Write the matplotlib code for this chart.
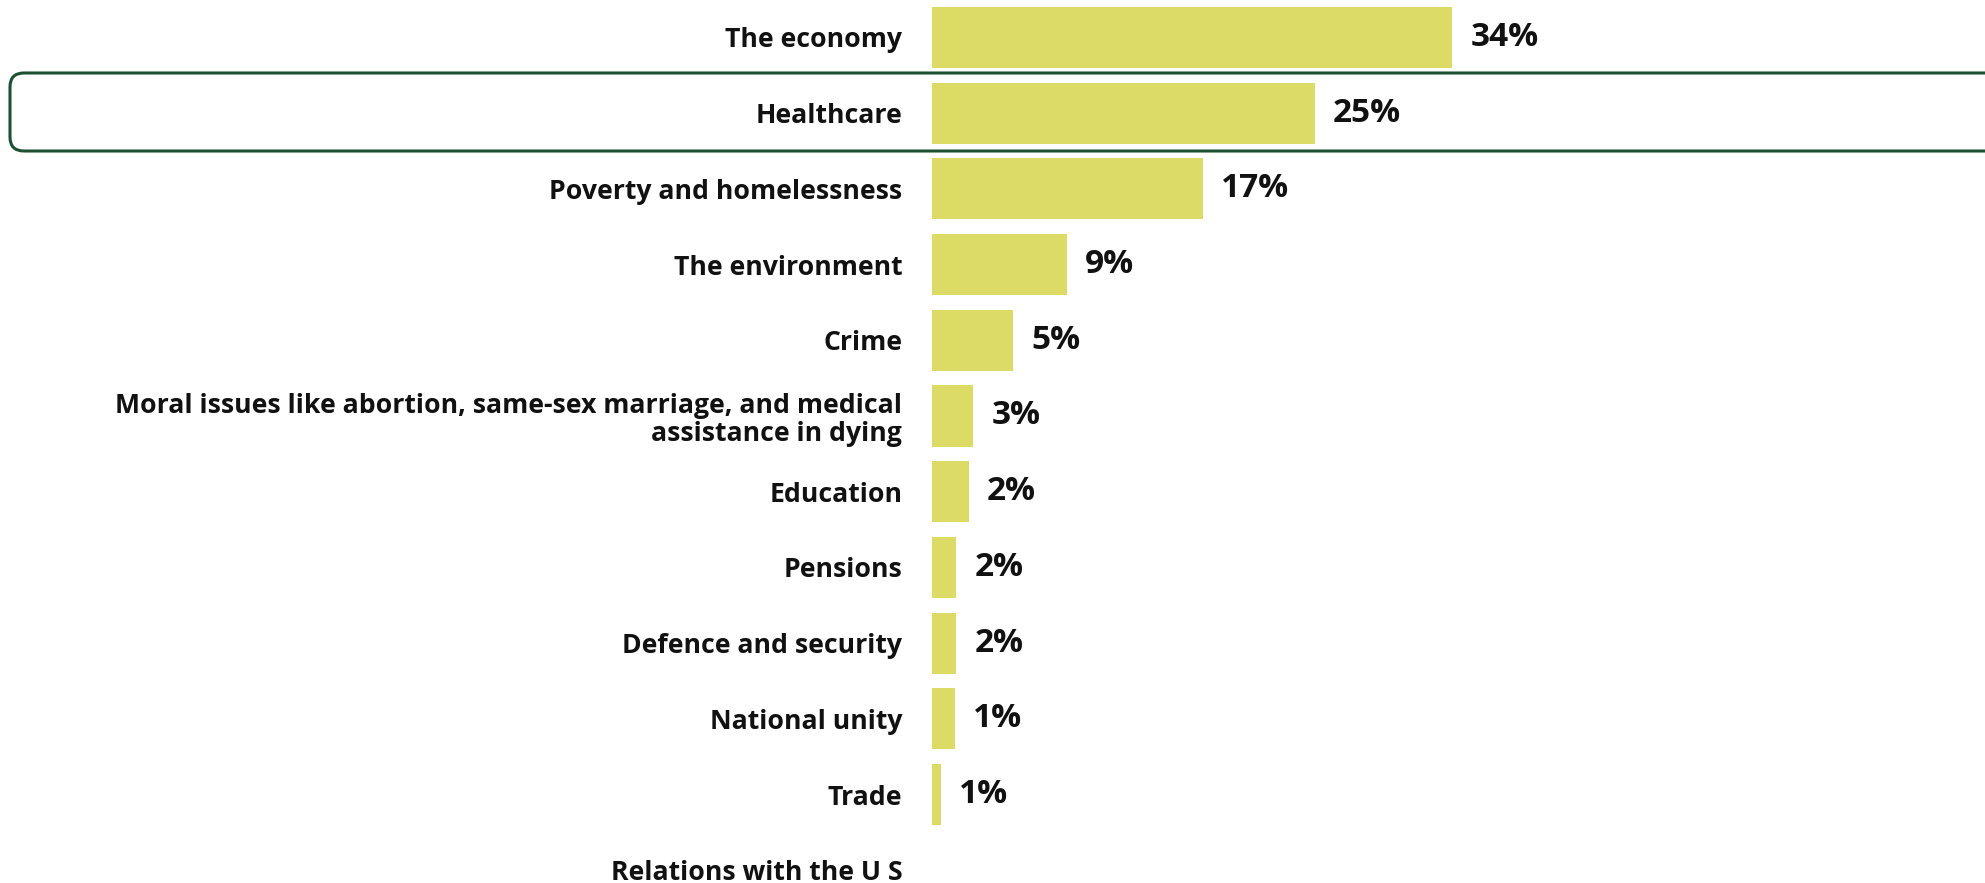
import matplotlib
matplotlib.use("Agg")
import matplotlib.pyplot as plt
from matplotlib.patches import FancyBboxPatch
from matplotlib.transforms import IdentityTransform

categories = [
    "The economy",
    "Healthcare",
    "Poverty and homelessness",
    "The environment",
    "Crime",
    "Moral issues like abortion, same-sex marriage, and medical\nassistance in dying",
    "Education",
    "Pensions",
    "Defence and security",
    "National unity",
    "Trade",
    "Relations with the U S",
]
values = [34, 25, 17.7, 8.8, 5.3, 2.7, 2.4, 1.6, 1.6, 1.5, 0.6, 0]
value_labels = ["34%", "25%", "17%", "9%", "5%", "3%", "2%", "2%", "2%", "1%", "1%", ""]

bar_color = "#dcdb65"
box_color = "#1b5131"

plt.rcParams["font.family"] = ["Open Sans", "DejaVu Sans"]
plt.rcParams["font.weight"] = "bold"

W, H = 1985, 883
fig = plt.figure(figsize=(W / 100, H / 100), dpi=100)

# axes start where the bars start, and run to the right edge
ax = fig.add_axes([932 / W, 0, 1 - 932 / W, 1])
pos = list(range(len(categories)))
bars = ax.barh(pos, values, height=0.806, color=bar_color)
ax.bar_label(bars, labels=value_labels, padding=13, fontsize=24,
             fontweight="bold", color="#111111")

ax.set_xlim(0, (W - 932) / 15.3)
ax.set_ylim((H - 37.5) / 75.7, -37.5 / 75.7)
ax.set_yticks(pos)
ax.set_yticklabels(categories, fontsize=19.2, fontweight="bold", color="#111111",
                   linespacing=1.08)
ax.tick_params(axis="y", length=0, pad=21.5)
ax.set_xticks([])
for s in ax.spines.values():
    s.set_visible(False)

# rounded highlight around Healthcare row (pixel coords)
box = FancyBboxPatch((10, H - 151), W + 20, 78,
                     boxstyle="round,pad=0,rounding_size=14",
                     fill=False, edgecolor=box_color, linewidth=2.2,
                     transform=IdentityTransform(), clip_on=False)
fig.add_artist(box)

fig.savefig("out.png", dpi=100)
